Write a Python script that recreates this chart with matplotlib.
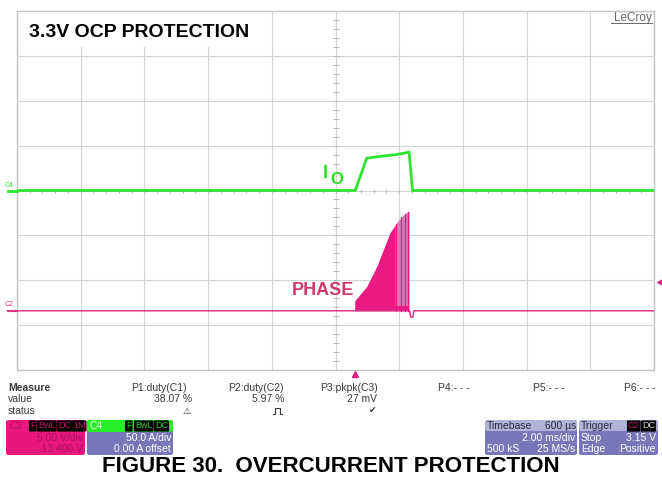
import numpy as np
import matplotlib
matplotlib.use("Agg")
import matplotlib.pyplot as plt
import matplotlib.transforms as mtransforms
from matplotlib.patches import Rectangle, FancyBboxPatch

plt.rcParams['font.family'] = ['Liberation Sans', 'DejaVu Sans']

# === Scope settings ===
T_DIV = 2.0        # ms/div
I_DIV = 50.0       # A/div  (C4)
V_DIV = 5.0        # V/div  (C2)
V_OFFSET = -13.4   # V
TRIG_T = 0.6       # ms (timebase delay)
TRIG_LEVEL = 3.15  # V

# === Output current I_O (C4) ===
io_t = [-10.0, 0.40, 0.62, 0.98, 1.40, 1.90, 2.31, 2.42, 10.0]
io_a = [0.0, 0.0, 0.0, 36.0, 38.0, 40.0, 42.6, 0.0, 0.0]

# === Phase node (C2): baseline trace and switching envelope ===
ph_t = [-10.0, 0.60, 2.31, 2.33, 2.36, 2.43, 2.46, 10.0]
ph_v = [0.0, 0.0, 0.0, 0.0, -0.7, -0.7, 0.0, 0.0]
env_t = [0.60, 0.601, 0.98, 1.29, 1.50, 1.71, 1.92, 2.08, 2.29, 2.31]
env_v = [0.0, 1.1, 2.7, 4.9, 6.8, 8.7, 9.8, 10.5, 11.1, 11.1]
light_from = 1.88
burst_t = [1.90, 2.06, 2.19, 2.27]

# === Measurement table ===
meas_names = ["P1:duty(C1)", "P2:duty(C2)", "P3:pkpk(C3)", "P4:- - -", "P5:- - -", "P6:- - -"]
meas_values = ["38.07 %", "5.97 %", "27 mV", "", "", ""]
meas_status = ["\u26a0", None, "\u2714", "", "", ""]   # None -> pulse icon drawn as shape

W, H = 662, 480
fig = plt.figure(figsize=(W / 100, H / 100), dpi=100)


def fx(x):
    return x / W


def fy(y):
    return 1 - y / H


def rect(x0, y0, x1, y1):
    return [fx(x0), fy(y1), (x1 - x0) / W, (y1 - y0) / H]


GRID = '#d4d4d4'
GREEN = '#2fe42f'
PINK = '#d8398a'
FILL = '#ea1a84'
LIGHT = '#d47cb4'

# === Screen (grid axes) ===
ax = fig.add_axes(rect(17, 11, 654, 370))
ax.set_xlim(-5 * T_DIV, 5 * T_DIV)
ax.set_ylim(-4, 4)
ax.set_xticks([])
ax.set_yticks([])
for s in ax.spines.values():
    s.set_color('#c4c4c4')
    s.set_linewidth(1.0)
for x in np.arange(-5, 6) * T_DIV:
    ax.axvline(x, color=GRID, lw=0.8, zorder=1)
for y in range(-4, 5):
    ax.axhline(y, color=GRID, lw=0.8, zorder=1)
# minor ticks along centre cross
ax.plot(np.arange(-25, 26) * T_DIV / 5, np.zeros(51), ls='none', marker='|',
        ms=3, color='#b8b8b8', mew=0.7, zorder=1)
ax.plot(np.zeros(41), np.arange(-20, 21) / 5, ls='none', marker='_',
        ms=4, color='#b8b8b8', mew=0.7, zorder=1)

# title box
ax.add_patch(Rectangle((0, 0.9), 0.381, 0.1, transform=ax.transAxes,
                       fc='white', ec='none', zorder=2.2))
fig.text(fx(29), fy(37), "3.3V OCP PROTECTION", fontsize=14, fontweight='bold',
         color='black', va='baseline', ha='left')
fig.text(fx(652), fy(21), "LeCroy", fontsize=8.5, color='#6a6a6a', ha='right',
         va='baseline')
fig.add_artist(plt.Line2D([fx(611), fx(652)], [fy(23), fy(23)], color='#6a6a6a', lw=0.7))

# === Channel axes ===
ax_i = ax.twinx()
ax_i.set_ylim(-4 * I_DIV, 4 * I_DIV)
ax_v = ax.twinx()
ax_v.set_ylim(-4 * V_DIV - V_OFFSET, 4 * V_DIV - V_OFFSET)
for a in (ax_i, ax_v):
    a.set_yticks([])
    for s in a.spines.values():
        s.set_visible(False)

ax_i.plot(io_t, io_a, color=GREEN, lw=2.0, solid_joinstyle='miter')

ax_v.plot(ph_t, ph_v, color=PINK, lw=1.1)
tt = np.linspace(env_t[0], env_t[-1], 400)
ev = np.interp(tt, env_t, env_v)
dark = tt <= light_from
ax_v.fill_between(tt[dark], 0, ev[dark], color=FILL, lw=0)
ax_v.fill_between(tt[~dark], 0, ev[~dark], color=LIGHT, lw=0)
ax_v.fill_between(tt[~dark], 0, 0.5, color=FILL, lw=0)
for bt in burst_t:
    ax_v.plot([bt, bt], [0, np.interp(bt, env_t, env_v)], color=FILL, lw=0.9)

# trace labels
fig.text(fx(323), fy(178), "I", fontsize=13, fontweight='bold', color='#22e022', va='baseline')
fig.text(fx(330), fy(184), "O", fontsize=12, fontweight='bold', color='#22e022', va='baseline')
fig.text(fx(292), fy(295), "PHASE", fontsize=13, fontweight='bold', color='#d3386c', va='baseline')

# channel markers at left
tr_i = mtransforms.blended_transform_factory(fig.transFigure, ax_i.transData)
tr_v = mtransforms.blended_transform_factory(fig.transFigure, ax_v.transData)
ax_i.plot([fx(8), fx(17)], [0, 0], color=GREEN, lw=2.0, transform=tr_i, clip_on=False)
ax_v.plot([fx(8), fx(17)], [0, 0], color=PINK, lw=1.5, transform=tr_v, clip_on=False)
fig.text(fx(5), fy(187), "C4", fontsize=5, color=GREEN)
fig.text(fx(5), fy(306), "C2", fontsize=5, color=PINK)

# trigger markers
tr_x = mtransforms.blended_transform_factory(ax.transData, ax.transAxes)
ax.plot([TRIG_T], [-0.012], marker='^', ms=5, color='#e0207f', transform=tr_x, clip_on=False)
tr_r = mtransforms.blended_transform_factory(ax.transAxes, ax_v.transData)
ax_v.plot([1.009], [TRIG_LEVEL], marker='<', ms=5, color='#e0207f', transform=tr_r, clip_on=False)

# === Measurement table ===
SMALL = dict(fontsize=7.5, color='#3a3a3a', va='center')
fig.text(fx(8), fy(388), "Measure", fontweight='bold', ha='left', **SMALL)
fig.text(fx(8), fy(399), "value", ha='left', **SMALL)
fig.text(fx(8), fy(411), "status", ha='left', **SMALL)
name_x = [187, 284, 378, 470, 565, 656]
val_x = [192, 284, 377]
stat_x = [187, 278, 373]
for i, nm in enumerate(meas_names):
    fig.text(fx(name_x[i]), fy(388), nm, ha='right', **SMALL)
for i in range(3):
    fig.text(fx(val_x[i]), fy(399), meas_values[i], ha='right', **SMALL)
    if meas_status[i] is None:
        # pulse icon (no installed font has U+238D)
        cx = stat_x[i]
        px = [cx - 5, cx - 3, cx - 3, cx + 2, cx + 2, cx + 4]
        py = [414, 414, 408, 408, 414, 414]
        fig.add_artist(plt.Line2D([fx(v) for v in px], [fy(v) for v in py],
                                  color='#3a3a3a', lw=0.8))
    else:
        fig.text(fx(stat_x[i]), fy(411), meas_status[i], ha='center',
                 fontsize=6.5, color='#3a3a3a', va='center', family=['DejaVu Sans'])

# === Channel / timebase boxes ===
PURPLE = '#7876b8'
HEAD = '#b2b1d8'


def box(x0, y0, x1, y1, color):
    fig.add_artist(FancyBboxPatch((fx(x0), fy(y1)), (x1 - x0) / W, (y1 - y0) / H,
                                  boxstyle='round,pad=0,rounding_size=0.004',
                                  transform=fig.transFigure, fc=color, ec='none'))


def tag(x, y, s, color):
    fig.text(fx(x), fy(y), s, fontsize=6.5, color=color, ha='left', va='center',
             bbox=dict(boxstyle='round,pad=0.12', fc='black', ec='none'))


BT = dict(fontsize=7.5, va='center')
# C2
box(6, 420, 85, 455, '#e8177f')
fig.text(fx(9), fy(426), "C2", color='#b0105a', ha='left', **BT)
for x, s in [(30, "F"), (38, "BwL"), (58, "DC"), (73, "1M")]:
    tag(x, 426, s, '#c01068')
fig.text(fx(83), fy(438), "5.00 V/div", color='#a8125c', ha='right', **BT)
fig.text(fx(83), fy(449), "-13.400 V", color='#a8125c', ha='right', **BT)
# C4
box(87, 420, 173, 455, PURPLE)
box(87, 420, 173, 432, '#27ee27')
fig.text(fx(90), fy(426), "C4", color='#e8ffe8', ha='left', **BT)
for x, s in [(126, "F"), (135, "BwL"), (155, "DC")]:
    tag(x, 426, s, '#27cc27')
fig.text(fx(171), fy(438), "50.0 A/div", color='white', ha='right', **BT)
fig.text(fx(171), fy(449), "0.00 A offset", color='white', ha='right', **BT)
# Timebase
box(485, 420, 577, 455, PURPLE)
box(485, 420, 577, 431, HEAD)
fig.text(fx(487), fy(426), "Timebase", color='#2a2a48', ha='left', **BT)
fig.text(fx(576), fy(426), "600 \u00b5s", color='#2a2a48', ha='right', **BT)
fig.text(fx(575), fy(438), "2.00 ms/div", color='white', ha='right', **BT)
fig.text(fx(487), fy(449), "500 kS", color='white', ha='left', **BT)
fig.text(fx(575), fy(449), "25 MS/s", color='white', ha='right', **BT)
# Trigger
box(579, 420, 658, 455, PURPLE)
box(579, 420, 658, 431, HEAD)
fig.text(fx(581), fy(426), "Trigger", color='#2a2a48', ha='left', **BT)
tag(628, 426, "C2", '#c01068')
tag(642, 426, "DC", '#d8d8d8')
fig.text(fx(581), fy(438), "Stop", color='white', ha='left', **BT)
fig.text(fx(656), fy(438), "3.15 V", color='white', ha='right', **BT)
fig.text(fx(581), fy(449), "Edge", color='white', ha='left', **BT)
fig.text(fx(656), fy(449), "Positive", color='white', ha='right', **BT)

# === Caption ===
fig.text(fx(331), fy(466), "FIGURE 30.  OVERCURRENT PROTECTION", fontsize=16,
         fontweight='bold', color='black', ha='center', va='center')

fig.savefig("out.png", dpi=100)
